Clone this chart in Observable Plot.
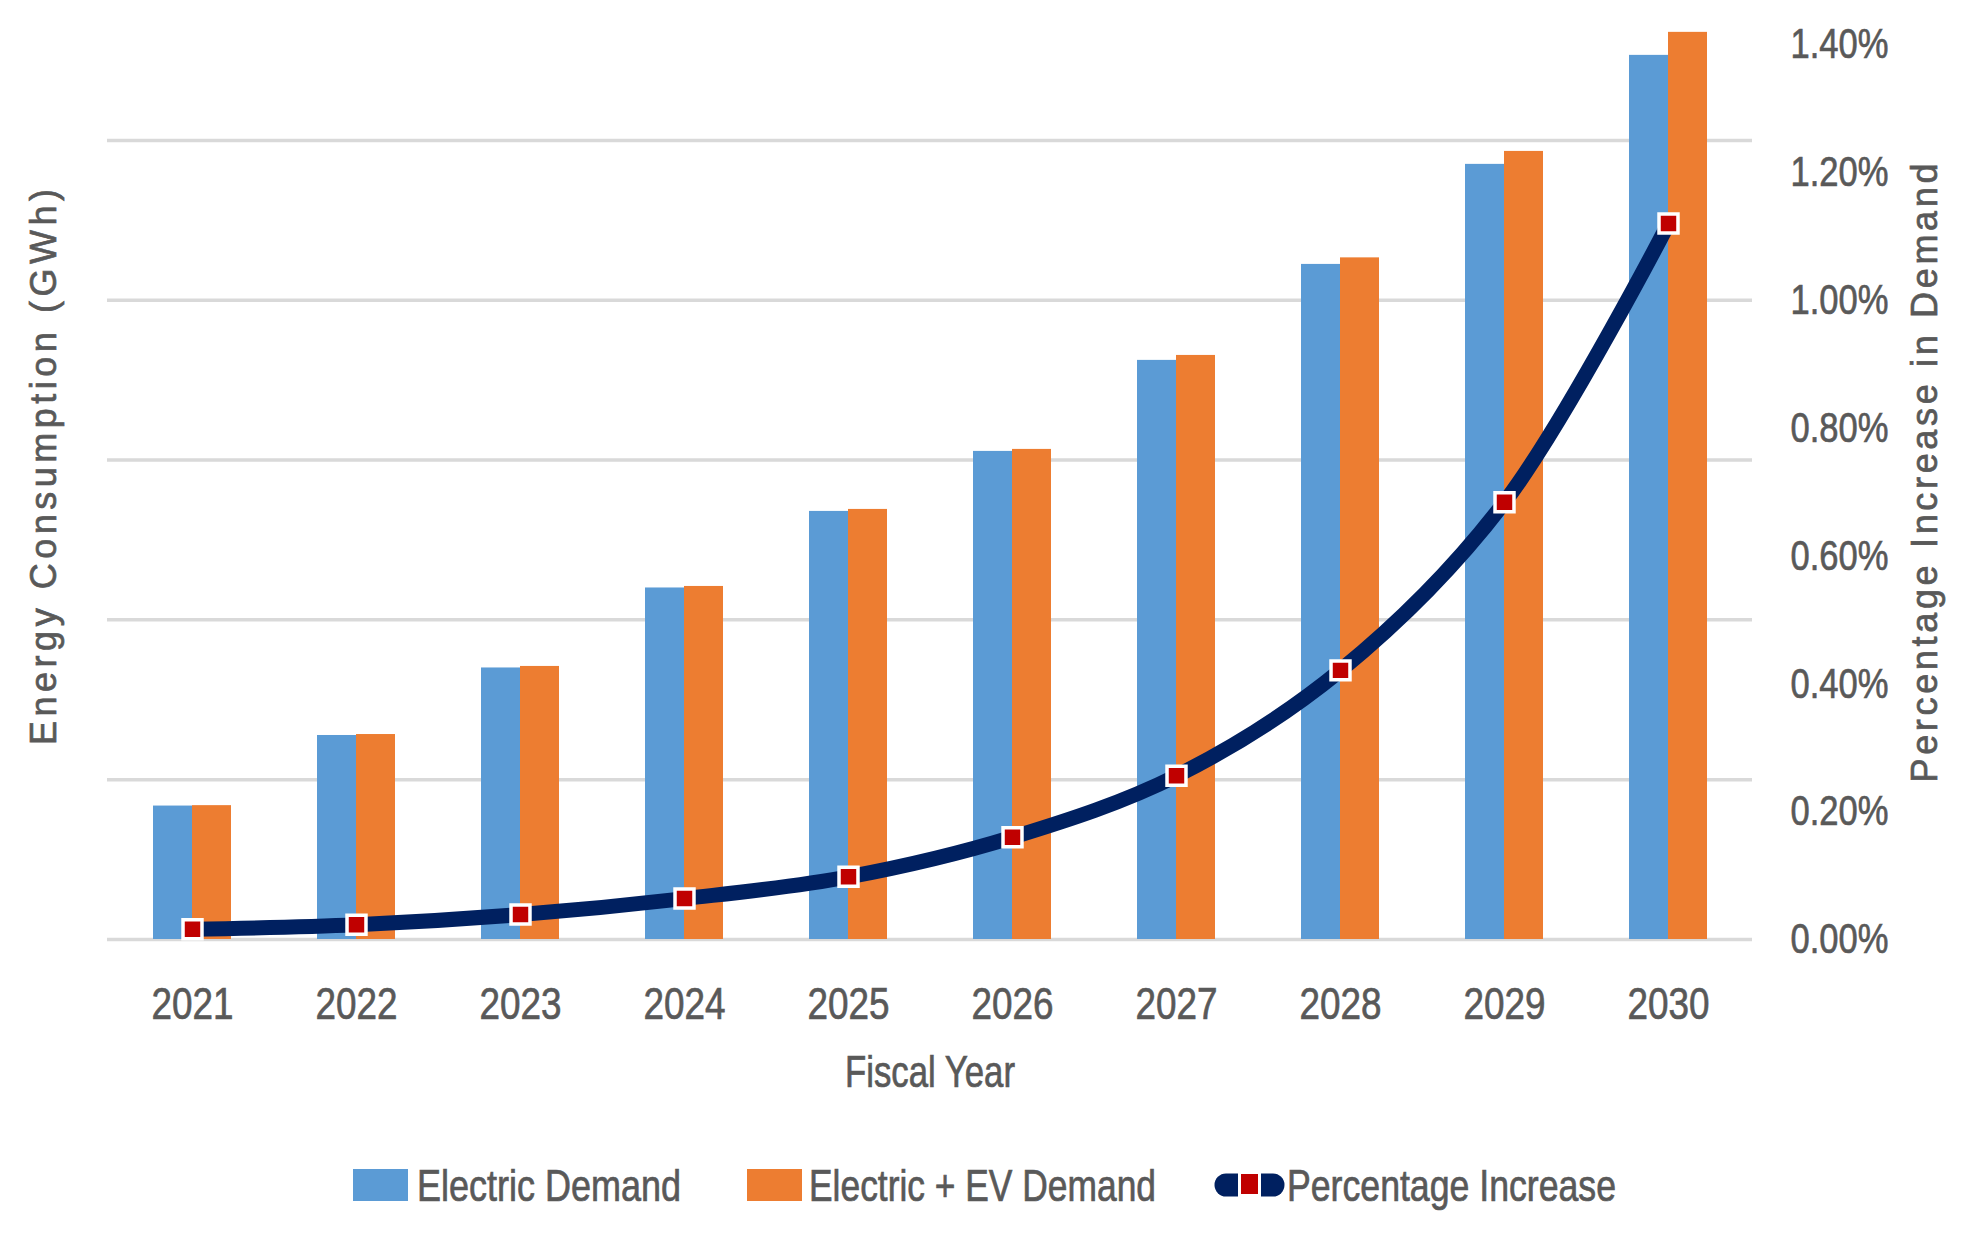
<!DOCTYPE html>
<html>
<head>
<meta charset="utf-8">
<script src="https://cdn.jsdelivr.net/npm/d3@7"></script>
<script src="https://cdn.jsdelivr.net/npm/@observablehq/plot@0.6"></script>
<style>
  html, body { margin: 0; padding: 0; background: #fff; }
  #chart svg, #legend svg { display: block; }
</style>
</head>
<body>
<div id="chart"></div>
<div id="legend"></div>
<script>
// ---- data ----
const years = ["2021","2022","2023","2024","2025","2026","2027","2028","2029","2030"];
// Energy consumption (GWh) – left axis has no labels; values in gridline units of 2000 GWh
const electricDemand   = [1670, 2553, 3398, 4399, 5357, 6108, 7247, 8448, 9700, 11064];
const electricEVDemand = [1675, 2565, 3417, 4418, 5382, 6133, 7309, 8530, 9862, 11352];
// Percentage increase in demand (%)
const pctIncrease = [0.016, 0.023, 0.039, 0.064, 0.098, 0.160, 0.256, 0.421, 0.684, 1.120];
const leftGridTicks = [0, 2000, 4000, 6000, 8000, 10000];
const pctTicks = [0, 0.2, 0.4, 0.6, 0.8, 1.0, 1.2, 1.4];
const pctTickLabels = ["0.00%","0.20%","0.40%","0.60%","0.80%","1.00%","1.20%","1.40%"];
const seriesNames = ["Electric Demand", "Electric + EV Demand", "Percentage Increase"];

const colors = {blue: "#5B9BD5", orange: "#ED7D31", navy: "#002060", red: "#C00000", grid: "#D9D9D9", text: "#595959"};
const font = '"Liberation Sans", Arial, sans-serif';

const rows = years.map((y, i) => ({year: y, electric: electricDemand[i], ev: electricEVDemand[i], pct: pctIncrease[i]}));
// secondary axis: 1.40% maps to the top of the left axis domain
const leftMax = 11200;
const pctToLeft = d3.scaleLinear([0, 1.4], [0, leftMax]);

const plot = Plot.plot({
  width: 1961,
  height: 1130,
  marginLeft: 107,
  marginRight: 209,
  marginTop: 44,
  marginBottom: 191,
  style: {fontFamily: font, color: colors.text, background: "#fff", overflow: "visible"},
  x: {type: "band", domain: years, paddingInner: 0.526, paddingOuter: 0.263, axis: null},
  y: {domain: [0, leftMax], axis: null},
  marks: [
    Plot.ruleY(leftGridTicks, {stroke: colors.grid, strokeWidth: 3.5}),
    Plot.barY(rows, {x: "year", y: "electric", fill: colors.blue, insetRight: 39}),
    Plot.barY(rows, {x: "year", y: "ev", fill: colors.orange, insetLeft: 39}),
    Plot.line(rows, {x: "year", y: d => pctToLeft(d.pct), stroke: colors.navy, strokeWidth: 15, curve: "catmull-rom"}),
    Plot.dot(rows, {x: "year", y: d => pctToLeft(d.pct), symbol: "square", r: 10.7, fill: colors.red, stroke: "#fff", strokeWidth: 3.5}),
    Plot.axisX({tickSize: 0, tickPadding: 48, fontSize: 45, label: null}),
    Plot.axisY({anchor: "right", ticks: pctTicks.map(pctToLeft), tickFormat: (d, i) => pctTickLabels[i],
      tickSize: 0, tickPadding: 38, fontSize: 43, label: null}),
    Plot.text(["Fiscal Year"], {frameAnchor: "bottom", lineAnchor: "top", dy: 116, fontSize: 45, fill: colors.text}),
    Plot.text(["Energy Consumption (GWh)"], {frameAnchor: "left", textAnchor: "middle", rotate: -90, dx: -63, dy: -25, fontSize: 36, fill: colors.text}),
    Plot.text(["Percentage Increase in Demand"], {frameAnchor: "right", textAnchor: "middle", rotate: -90, dx: 173, dy: -19, fontSize: 36, fill: colors.text})
  ]
});
document.getElementById("chart").appendChild(plot);

// fit texts to the narrow lettering of the reference
function fit(el, len, adjust) {
  el.setAttribute("textLength", len); el.setAttribute("lengthAdjust", adjust);
  el.setAttribute("stroke", colors.text); el.setAttribute("stroke-width", 0.7);
}
d3.select(plot).selectAll("text").each(function() {
  const t = this.textContent;
  if (t === "Energy Consumption (GWh)") fit(this, 556, "spacing");
  else if (t === "Percentage Increase in Demand") fit(this, 619, "spacing");
  else if (/^\d{4}$/.test(t)) fit(this, 82, "spacingAndGlyphs");
  else if (/%$/.test(t)) fit(this, 98, "spacingAndGlyphs");
  else if (t === "Fiscal Year") fit(this, 170, "spacingAndGlyphs");
});

// legend below the SVG
const lg = d3.select("#legend").append("svg").attr("width", 1961).attr("height", 111)
  .style("font-family", font).style("font-size", "44px");
const cy = 55;
lg.append("rect").attr("x", 353).attr("y", cy - 16).attr("width", 55).attr("height", 32).attr("fill", colors.blue);
lg.append("text").attr("x", 417).attr("y", cy).attr("dy", "0.36em").attr("fill", colors.text)
  .attr("stroke", colors.text).attr("stroke-width", 0.7)
  .attr("textLength", 264).attr("lengthAdjust", "spacingAndGlyphs").text(seriesNames[0]);
lg.append("rect").attr("x", 747).attr("y", cy - 16).attr("width", 55).attr("height", 32).attr("fill", colors.orange);
lg.append("text").attr("x", 809).attr("y", cy).attr("dy", "0.36em").attr("fill", colors.text)
  .attr("stroke", colors.text).attr("stroke-width", 0.7)
  .attr("textLength", 347).attr("lengthAdjust", "spacingAndGlyphs").text(seriesNames[1]);
lg.append("line").attr("x1", 1226).attr("x2", 1273).attr("y1", cy).attr("y2", cy)
  .attr("stroke", colors.navy).attr("stroke-width", 23).attr("stroke-linecap", "round");
lg.append("rect").attr("x", 1238).attr("y", cy - 13).attr("width", 23).attr("height", 26).attr("fill", "#fff");
lg.append("rect").attr("x", 1241).attr("y", cy - 11).attr("width", 17).attr("height", 20).attr("fill", colors.red);
lg.append("text").attr("x", 1287).attr("y", cy).attr("dy", "0.36em").attr("fill", colors.text)
  .attr("stroke", colors.text).attr("stroke-width", 0.7)
  .attr("textLength", 329).attr("lengthAdjust", "spacingAndGlyphs").text(seriesNames[2]);
</script>
</body>
</html>
